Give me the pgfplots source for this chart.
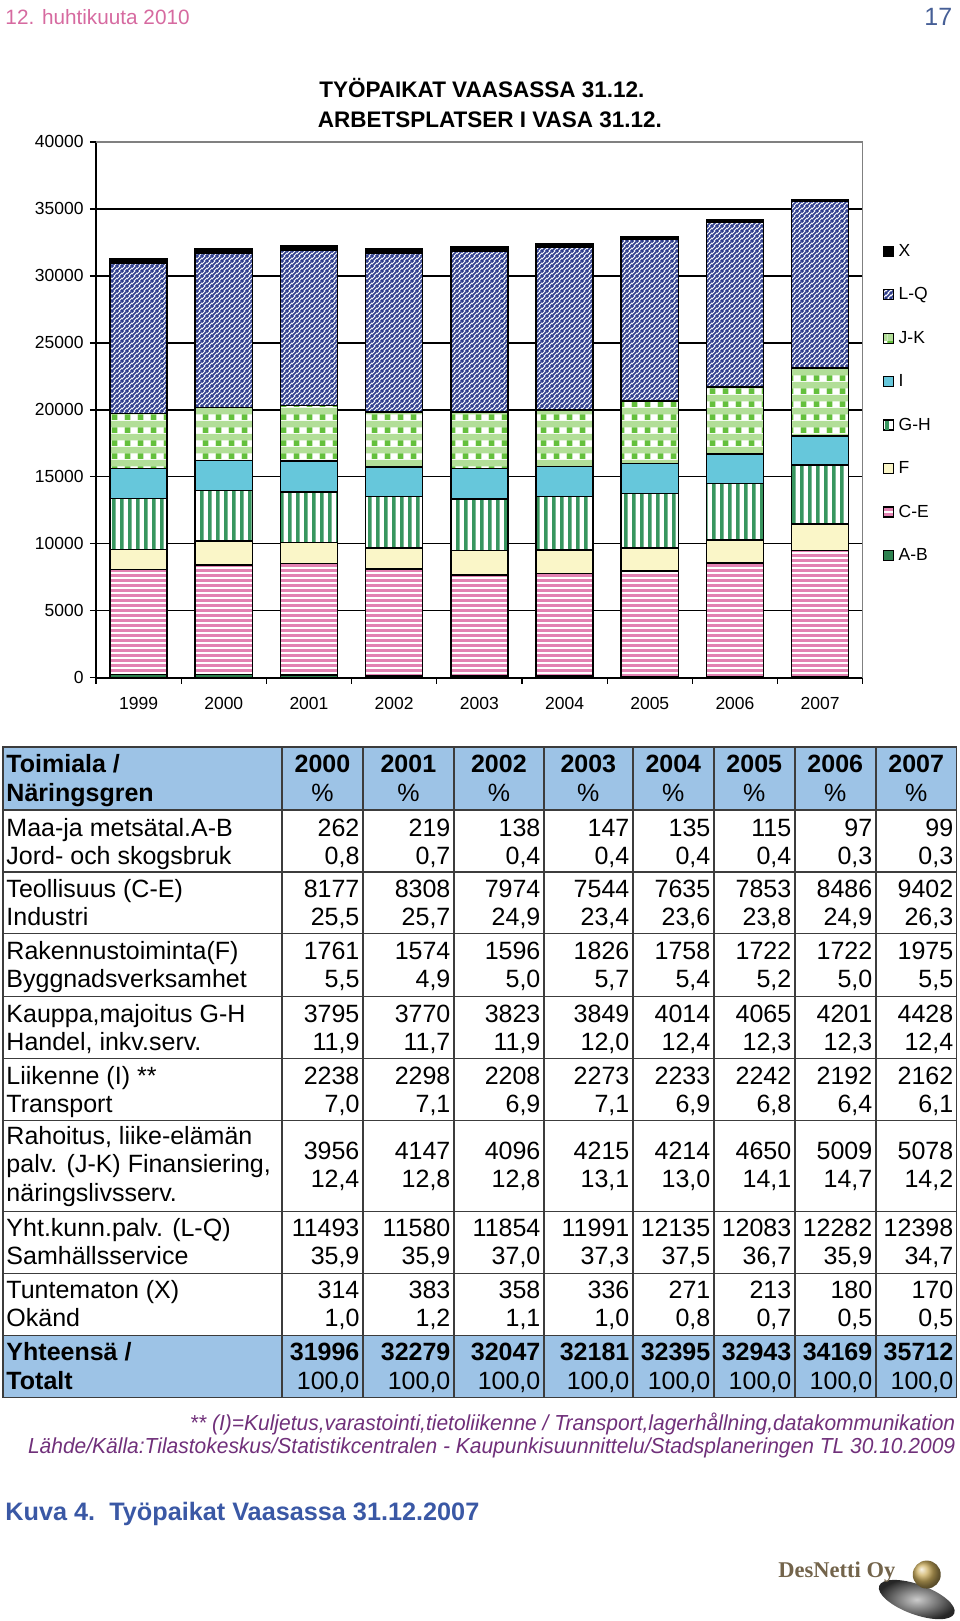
\documentclass[border=0pt]{standalone}
\usepackage{fontspec}
\setmainfont{Liberation Sans}
\newfontfamily\serifb{Liberation Serif}
\usepackage{pgfplots}
\pgfplotsset{compat=1.18}
\usepackage{pgfplotstable}
\usetikzlibrary{patterns}

\definecolor{hdrpink}{RGB}{214,106,160}
\definecolor{hdrblue}{RGB}{70,95,150}
\definecolor{tblbg}{RGB}{157,195,230}
\definecolor{tline}{RGB}{60,60,60}
\definecolor{footc}{RGB}{112,48,122}
\definecolor{kuvac}{RGB}{58,88,165}
\definecolor{cAB}{RGB}{46,130,80}
\definecolor{cCE}{RGB}{226,130,178}
\definecolor{cF}{RGB}{250,246,200}
\definecolor{cGH}{RGB}{56,150,95}
\definecolor{cI}{RGB}{102,199,219}
\definecolor{jkGreen}{RGB}{100,192,60}
\definecolor{jkLight}{RGB}{178,222,152}
\definecolor{cLQ}{RGB}{45,60,140}

\pgfdeclarepatternformonly{hstripes}{\pgfqpoint{0pt}{0pt}}{\pgfqpoint{10pt}{2pt}}{\pgfqpoint{10pt}{2pt}}{%
  \pgfpathrectangle{\pgfqpoint{0pt}{0pt}}{\pgfqpoint{10pt}{1.2pt}}\pgfusepath{fill}}
\pgfdeclarepatternformonly{vstripes}{\pgfqpoint{0pt}{0pt}}{\pgfqpoint{3pt}{10pt}}{\pgfqpoint{3pt}{10pt}}{%
  \pgfpathrectangle{\pgfqpoint{0pt}{0pt}}{\pgfqpoint{1.6pt}{10pt}}\pgfusepath{fill}}
\pgfdeclarepatternformonly{dlines}{\pgfqpoint{0pt}{0pt}}{\pgfqpoint{1.8pt}{1.8pt}}{\pgfqpoint{1.8pt}{1.8pt}}{%
  \pgfsetlinewidth{0.7pt}%
  \pgfpathmoveto{\pgfqpoint{-0.3pt}{-0.3pt}}\pgfpathlineto{\pgfqpoint{2.1pt}{2.1pt}}%
  \pgfpathmoveto{\pgfqpoint{-0.6pt}{1.2pt}}\pgfpathlineto{\pgfqpoint{0.8pt}{2.6pt}}%
  \pgfpathmoveto{\pgfqpoint{1.2pt}{-0.6pt}}\pgfpathlineto{\pgfqpoint{2.6pt}{0.8pt}}%
  \pgfusepath{stroke}}
\pgfdeclarepatterninherentlycolored{gingham}{\pgfqpoint{0pt}{0pt}}{\pgfqpoint{5pt}{5pt}}{\pgfqpoint{5pt}{5pt}}{%
  \pgfsetfillcolor{jkLight}\pgfpathrectangle{\pgfqpoint{0pt}{0pt}}{\pgfqpoint{5pt}{5pt}}\pgfusepath{fill}%
  \pgfsetfillcolor{white}\pgfpathrectangle{\pgfqpoint{0pt}{0pt}}{\pgfqpoint{5pt}{2.3pt}}\pgfusepath{fill}%
  \pgfsetfillcolor{jkGreen}\pgfpathrectangle{\pgfqpoint{0pt}{0pt}}{\pgfqpoint{2.2pt}{2.3pt}}\pgfusepath{fill}}

\pgfplotstableread{
x AB CE F GH I JK LQ X
0 250 7820 1520 3790 2240 4110 11200 320
1 262 8177 1761 3795 2238 3956 11493 314
2 219 8308 1574 3770 2298 4147 11580 383
3 138 7974 1596 3823 2208 4096 11854 358
4 147 7544 1826 3849 2273 4215 11991 336
5 135 7635 1758 4014 2233 4214 12135 271
6 115 7853 1722 4065 2242 4650 12083 213
7 97 8486 1722 4201 2192 5009 12282 180
8 99 9402 1975 4428 2162 5078 12398 170
}\datatable

\tikzset{
  tl/.style={anchor=base west, inner sep=0pt, font=\fontsize{10}{12}\selectfont},
  tlb/.style={tl, font=\fontsize{10}{12}\selectfont\bfseries},
  nb/.style={anchor=base east, inner sep=0pt, font=\fontsize{10}{12}\selectfont},
  nbb/.style={nb, font=\fontsize{10}{12}\selectfont\bfseries},
  hc/.style={anchor=base, inner sep=0pt, font=\fontsize{10}{12}\selectfont},
}
\newcommand\numrow[9]{%
  \node[nb] at (360,#1) {#2}; \node[nb] at (451,#1) {#3};
  \node[nb] at (541,#1) {#4}; \node[nb] at (630,#1) {#5};
  \node[nb] at (711,#1) {#6}; \node[nb] at (792,#1) {#7};
  \node[nb] at (873,#1) {#8}; \node[nb] at (954,#1) {#9};}
\newcommand\numrowb[9]{%
  \node[nbb] at (360,#1) {#2}; \node[nbb] at (451,#1) {#3};
  \node[nbb] at (541,#1) {#4}; \node[nbb] at (630,#1) {#5};
  \node[nbb] at (711,#1) {#6}; \node[nbb] at (792,#1) {#7};
  \node[nbb] at (873,#1) {#8}; \node[nbb] at (954,#1) {#9};}

\begin{document}
\begin{tikzpicture}
\begin{scope}[x=0.4pt,y=-0.4pt]
\useasboundingbox (0,0) rectangle (960,1621);
% page header
\node[anchor=base west, inner sep=0pt, text=hdrpink, font=\fontsize{8.3}{10}\selectfont] at (5,25) {12. huhtikuuta 2010};
\node[anchor=base east, inner sep=0pt, text=hdrblue, font=\fontsize{10}{12}\selectfont] at (953,26) {17};
% chart title
\node[anchor=base, inner sep=0pt, font=\fontsize{9}{10}\selectfont\bfseries] at (482,98) {TYÖPAIKAT VAASASSA 31.12.};
\node[anchor=base, inner sep=0pt, font=\fontsize{9}{10}\selectfont\bfseries] at (490,128) {ARBETSPLATSER I VASA 31.12.};
\end{scope}

\begin{axis}[
  at={(38.4pt,-271.2pt)}, anchor=south west,
  scale only axis, width=306.8pt, height=214.4pt,
  ybar stacked, bar width=0.67,
  xmin=-0.5, xmax=8.5, ymin=0, ymax=40000,
  xtick={-0.5,0.5,...,8.5}, x tick label as interval,
  xticklabels={1999,2000,2001,2002,2003,2004,2005,2006,2007},
  ytick={0,5000,...,40000},
  scaled y ticks=false,
  /pgf/number format/1000 sep={},
  /pgf/number format/assume math mode=true,
  ymajorgrids, grid style={black, line width=0.5pt},
  axis lines*=left,
  axis line style={black, line width=0.6pt},
  tick align=outside, major tick length=2.4pt,
  tick style={black, line width=0.5pt},
  tick label style={font=\fontsize{7}{8}\selectfont},
  xticklabel style={yshift=-2pt},
  yticklabel style={xshift=1pt},
  legend image code/.code={\draw[#1, line width=0.4pt] (0pt,-2pt) rectangle (4pt,2pt);},
  reverse legend,
  legend cell align=left,
  legend style={at={(1.026,0.512)}, anchor=west, draw=none, fill=none,
    inner sep=0pt, row sep=11.4pt,
    font=\fontsize{7}{8}\selectfont,
    nodes={inner sep=0pt, text height=5pt, text depth=1pt},
    /tikz/every odd column/.append style={column sep=1.8pt}},
]
\addplot[draw=black, line width=0.6pt, fill=cAB] table[x=x,y=AB] {\datatable};
\addplot[draw=black, line width=0.6pt, preaction={fill=white}, pattern=hstripes, pattern color=cCE] table[x=x,y=CE] {\datatable};
\addplot[draw=black, line width=0.6pt, fill=cF] table[x=x,y=F] {\datatable};
\addplot[draw=black, line width=0.6pt, preaction={fill=white}, pattern=vstripes, pattern color=cGH] table[x=x,y=GH] {\datatable};
\addplot[draw=black, line width=0.6pt, fill=cI] table[x=x,y=I] {\datatable};
\addplot[draw=black, line width=0.6pt, pattern=gingham] table[x=x,y=JK] {\datatable};
\addplot[draw=black, line width=0.6pt, preaction={fill=white}, pattern=dlines, pattern color=cLQ] table[x=x,y=LQ] {\datatable};
\addplot[draw=black, line width=0.6pt, fill=black] table[x=x,y=X] {\datatable};
\legend{A-B,C-E,F,G-H,I,J-K,L-Q,X}
\draw[gray, line width=0.6pt] (rel axis cs:0,1) -- (rel axis cs:1,1) -- (rel axis cs:1,0);
\end{axis}

\begin{scope}[x=0.4pt,y=-0.4pt]
% table backgrounds
\fill[tblbg] (3,747) rectangle (957,810);
\fill[tblbg] (3,1336) rectangle (957,1398);
\foreach \yy in {810,872,934,997,1059,1121,1212,1274,1336}
  \draw[tline, line width=0.6pt] (3,\yy) -- (957,\yy);
\foreach \xx in {282,363,454,544,633,714,795,876}
  \draw[tline, line width=0.6pt] (\xx,747) -- (\xx,1398);
\draw[tline, line width=0.6pt] (3,747) rectangle (957,1398);
% header row
\node[tlb] at (6,773) {Toimiala /};
\node[tlb] at (6,802) {Näringsgren};
\foreach \cx/\yr in {322.5/2000,408.5/2001,499/2002,588.5/2003,673.5/2004,754.5/2005,835.5/2006,916.5/2007}{
  \node[hc, font=\fontsize{10}{12}\selectfont\bfseries] at (\cx,773) {\yr};
  \node[hc] at (\cx,802) {\%};
}
% rows
\node[tl] at (6,837) {Maa-ja metsätal.A-B};
\node[tl] at (6,865) {Jord- och skogsbruk};
\numrow{837}{262}{219}{138}{147}{135}{115}{97}{99}
\numrow{865}{0,8}{0,7}{0,4}{0,4}{0,4}{0,4}{0,3}{0,3}

\node[tl] at (6,898) {Teollisuus (C-E)};
\node[tl] at (6,926) {Industri};
\numrow{898}{8177}{8308}{7974}{7544}{7635}{7853}{8486}{9402}
\numrow{926}{25,5}{25,7}{24,9}{23,4}{23,6}{23,8}{24,9}{26,3}

\node[tl] at (6,960) {Rakennustoiminta(F)};
\node[tl] at (6,988) {Byggnadsverksamhet};
\numrow{960}{1761}{1574}{1596}{1826}{1758}{1722}{1722}{1975}
\numrow{988}{5,5}{4,9}{5,0}{5,7}{5,4}{5,2}{5,0}{5,5}

\node[tl] at (6,1023) {Kauppa,majoitus G-H};
\node[tl] at (6,1051) {Handel, inkv.serv.};
\numrow{1023}{3795}{3770}{3823}{3849}{4014}{4065}{4201}{4428}
\numrow{1051}{11,9}{11,7}{11,9}{12,0}{12,4}{12,3}{12,3}{12,4}

\node[tl] at (6,1085) {Liikenne (I) **};
\node[tl] at (6,1113) {Transport};
\numrow{1085}{2238}{2298}{2208}{2273}{2233}{2242}{2192}{2162}
\numrow{1113}{7,0}{7,1}{6,9}{7,1}{6,9}{6,8}{6,4}{6,1}

\node[tl] at (6,1145) {Rahoitus, liike-elämän};
\node[tl] at (6,1173) {palv. (J-K) Finansiering,};
\node[tl] at (6,1202) {näringslivsserv.};
\numrow{1160}{3956}{4147}{4096}{4215}{4214}{4650}{5009}{5078}
\numrow{1188}{12,4}{12,8}{12,8}{13,1}{13,0}{14,1}{14,7}{14,2}

\node[tl] at (6,1237) {Yht.kunn.palv. (L-Q)};
\node[tl] at (6,1265) {Samhällsservice};
\numrow{1237}{11493}{11580}{11854}{11991}{12135}{12083}{12282}{12398}
\numrow{1265}{35,9}{35,9}{37,0}{37,3}{37,5}{36,7}{35,9}{34,7}

\node[tl] at (6,1299) {Tuntematon (X)};
\node[tl] at (6,1327) {Okänd};
\numrow{1299}{314}{383}{358}{336}{271}{213}{180}{170}
\numrow{1327}{1,0}{1,2}{1,1}{1,0}{0,8}{0,7}{0,5}{0,5}

\node[tlb] at (6,1361) {Yhteensä /};
\node[tlb] at (6,1390) {Totalt};
\numrowb{1361}{31996}{32279}{32047}{32181}{32395}{32943}{34169}{35712}
\numrow{1390}{100,0}{100,0}{100,0}{100,0}{100,0}{100,0}{100,0}{100,0}

% footnotes
\node[anchor=base east, inner sep=0pt, text=footc, font=\fontsize{8.7}{10}\selectfont\itshape] at (956,1431) {\scalebox{0.965}[1]{** (I)=Kuljetus,varastointi,tietoliikenne / Transport,lagerhållning,datakommunikation}};
\node[anchor=base east, inner sep=0pt, text=footc, font=\fontsize{8.7}{10}\selectfont\itshape] at (956,1454) {\scalebox{0.965}[1]{Lähde/Källa:Tilastokeskus/Statistikcentralen - Kaupunkisuunnittelu/Stadsplaneringen TL 30.10.2009}};
% caption
\node[anchor=base west, inner sep=0pt, text=kuvac, font=\fontsize{10.1}{12}\selectfont\bfseries] at (5,1521) {Kuva 4.\ \ Työpaikat Vaasassa 31.12.2007};
% logo
\shade[inner color=gray!40, outer color=black!85, rotate around={-20:(917,1600)}] (917,1600) ellipse [x radius=16pt, y radius=6pt];
\shade[ball color={rgb,255:red,205;green,175;blue,95}] (927,1575) circle [radius=5.6pt];
\node[anchor=east, inner sep=0pt, text={rgb,255:red,115;green,100;blue,75}, font=\serifb\fontsize{9}{10}\selectfont\bfseries] at (896,1573) {DesNetti Oy};
\end{scope}
\end{tikzpicture}
\end{document}
